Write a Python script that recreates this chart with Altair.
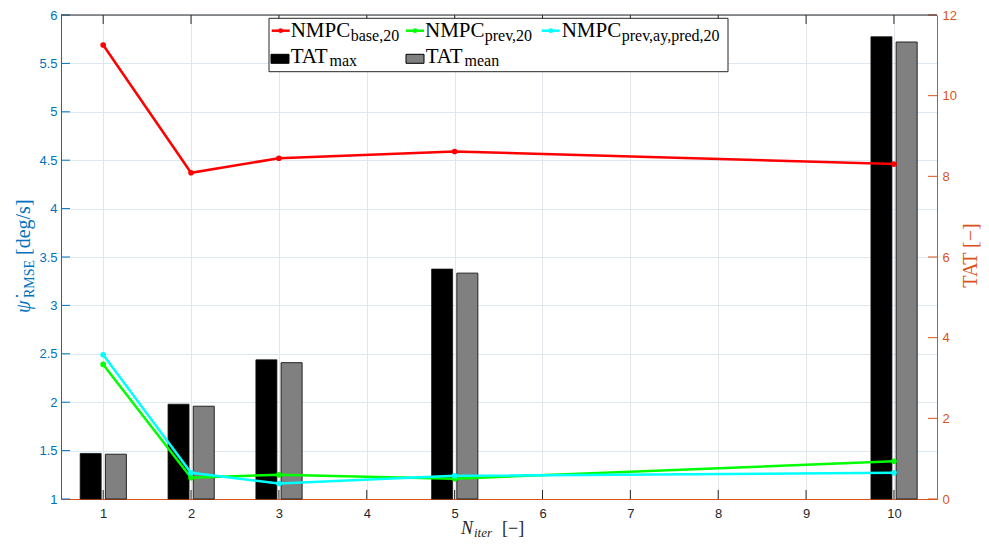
import altair as alt
import pandas as pd

# ---- data ----
N_iter = [1, 2, 3, 5, 10]
nmpc_base = [5.69, 4.37, 4.52, 4.59, 4.46]
nmpc_prev = [2.39, 1.22, 1.25, 1.21, 1.39]
nmpc_prev_ay_pred = [2.49, 1.27, 1.16, 1.24, 1.27]
tat_max = [1.13, 2.35, 3.45, 5.70, 11.46]
tat_mean = [1.11, 2.30, 3.38, 5.60, 11.33]

x_ticks = [1, 2, 3, 4, 5, 6, 7, 8, 9, 10]
left_ticks = [1, 1.5, 2, 2.5, 3, 3.5, 4, 4.5, 5, 5.5, 6]
right_ticks = [0, 2, 4, 6, 8, 10, 12]

# ---- style ----
W, H = 876, 484
TOP = 7
BLUE = "#0072BD"
ORANGE = "#D95319"
DARK = "#262626"
SERIF = "Liberation Serif"
SANS = "Liberation Sans"

xscale = alt.Scale(domain=[0.52, 10.49], nice=False, zero=False, padding=0)
lscale = alt.Scale(domain=[1, 6], nice=False, zero=False, padding=0)
rscale = alt.Scale(domain=[0, 12], nice=False, zero=False, padding=0)

xaxis = alt.Axis(values=x_ticks, grid=True, gridColor="#e2e5e9", ticks=False,
                 domainColor=ORANGE, labelColor=DARK, labelFont=SANS, labelFontSize=13,
                 labelPadding=8, title=None, format="d")
laxis = alt.Axis(values=left_ticks, orient="left", grid=True, gridColor="#dce9f3", ticks=False,
                 domainColor=BLUE, labelColor=BLUE, labelFont=SANS, labelFontSize=13,
                 labelPadding=4, title=None, format="~g")
raxis = alt.Axis(values=right_ticks, orient="right", grid=False, ticks=False,
                 domainColor=ORANGE, labelColor=ORANGE, labelFont=SANS, labelFontSize=13,
                 labelPadding=5, title=None, format="d")

one = pd.DataFrame({"a": [0]})


def X(field):
    return alt.X(field, scale=xscale, axis=xaxis)


def series(vals, color):
    df = pd.DataFrame({"N": N_iter, "v": vals})
    base = alt.Chart(df).encode(x=X("N:Q"), y=alt.Y("v:Q", scale=lscale, axis=laxis))
    return [base.mark_line(color=color, strokeWidth=2.5),
            base.mark_circle(color=color, size=32, opacity=1)]


def txt(s, x, y, size, color="black", italic=False, angle=0, align="left"):
    kw = dict(text=s, align=align, baseline="alphabetic", font=SERIF, fontSize=size, color=color)
    if italic:
        kw["fontStyle"] = "italic"
    if angle:
        kw["angle"] = angle
    # x, y given in page pixels of the plot frame (left edge 61, top edge 8+TOP)
    return alt.Chart(one).mark_text(**kw).encode(x=alt.value(x - 61), y=alt.value(y - 8 - TOP))


# ---- right axis group: bars ----
bar_df = pd.DataFrame({"N": N_iter, "tmax": tat_max, "tmean": tat_mean})
bars_max = alt.Chart(bar_df).mark_bar(size=21, xOffset=-12.5, color="#000000", stroke="#111111",
                                      strokeWidth=0.8).encode(
    x=X("N:Q"), y=alt.Y("tmax:Q", scale=rscale, axis=raxis))
bars_mean = alt.Chart(bar_df).mark_bar(size=21, xOffset=12.7, color="#808080", stroke="#222222",
                                       strokeWidth=1).encode(
    x=X("N:Q"), y=alt.Y("tmean:Q", scale=rscale, axis=raxis))
rticks = alt.Chart(pd.DataFrame({"t": right_ticks})).mark_rule(color=ORANGE).encode(
    y=alt.Y("t:Q", scale=rscale, axis=raxis), x=alt.value(W - 9), x2=alt.value(W))
right_group = alt.layer(bars_max, bars_mean, rticks)

# ---- left axis group: lines ----
lticks = alt.Chart(pd.DataFrame({"t": left_ticks})).mark_rule(color=BLUE).encode(
    y=alt.Y("t:Q", scale=lscale, axis=laxis), x=alt.value(0), x2=alt.value(9))
left_group = alt.layer(*series(nmpc_base, "#FF0000"), *series(nmpc_prev, "#00FF00"),
                       *series(nmpc_prev_ay_pred, "#00FFFF"), lticks)

# ---- frame decorations ----
tick_df = pd.DataFrame({"t": x_ticks})
bticks = alt.Chart(tick_df).mark_rule(color=DARK).encode(x=X("t:Q"), y=alt.value(H - 9), y2=alt.value(H))
tticks = alt.Chart(tick_df).mark_rule(color=DARK).encode(x=X("t:Q"), y=alt.value(0), y2=alt.value(9))
top_border = alt.Chart(one).mark_rule(color=DARK, strokeWidth=1).encode(
    x=alt.value(0), x2=alt.value(W), y=alt.value(0))

# ---- axis titles (page pixel positions) ----
titles = [
    txt("ψ̇", 30, 313, 20, BLUE, italic=True, angle=270),
    txt("RMSE", 33.5, 298, 14, BLUE, angle=270),
    txt("[deg/s]", 30, 255, 20, BLUE, angle=270),
    txt("TAT [−]", 977, 255.5, 20, ORANGE, angle=270, align="center"),
    txt("N", 461, 534, 18, DARK, italic=True),
    txt("iter", 474, 536.5, 13, DARK, italic=True),
    txt("[−]", 502, 534, 18, DARK),
]

# ---- legend (page pixel positions) ----
def px(v):
    return v - 61


def py(v):
    return v - 8 - TOP


legend = [
    alt.Chart(one).mark_rect(fill="white", stroke=DARK, strokeWidth=1).encode(
        x=alt.value(px(269)), x2=alt.value(px(728)), y=alt.value(py(18.3)), y2=alt.value(py(71.7))),
]
for (x0, col) in [(271.7, "#FF0000"), (406, "#00FF00"), (541.7, "#00FFFF")]:
    legend.append(alt.Chart(one).mark_rule(color=col, strokeWidth=2.5).encode(
        x=alt.value(px(x0)), x2=alt.value(px(x0 + 18)), y=alt.value(py(30.7))))
    legend.append(alt.Chart(one).mark_circle(color=col, size=22, opacity=1).encode(
        x=alt.value(px(x0 + 9)), y=alt.value(py(30.7))))
for (x0, col) in [(271, "#000000"), (406, "#808080")]:
    legend.append(alt.Chart(one).mark_rect(fill=col, stroke="#000000", strokeWidth=1).encode(
        x=alt.value(px(x0)), x2=alt.value(px(x0 + 18)), y=alt.value(py(54.3)), y2=alt.value(py(63.3))))
legend += [
    txt("NMPC", 290.7, 37.3, 21), txt("base,20", 350.7, 40.7, 16),
    txt("NMPC", 425, 37.3, 21), txt("prev,20", 484.7, 40.7, 16),
    txt("NMPC", 561.7, 37.3, 21), txt("prev,ay,pred,20", 621.7, 40.7, 16),
    txt("TAT", 290.7, 63.3, 21), txt("max", 329.5, 66, 16),
    txt("TAT", 425.7, 63.3, 21), txt("mean", 464.5, 66, 16),
]

chart = alt.layer(right_group, left_group, bticks, tticks, top_border, *titles, *legend).resolve_scale(
    y="independent"
).properties(
    width=W, height=H,
    padding={"left": 53, "top": TOP, "right": 44, "bottom": 41},
    autosize=alt.AutoSizeParams(type="none"),
).configure_view(stroke=None)

chart.save("out.html", embed_options={"renderer": "svg", "actions": False})
